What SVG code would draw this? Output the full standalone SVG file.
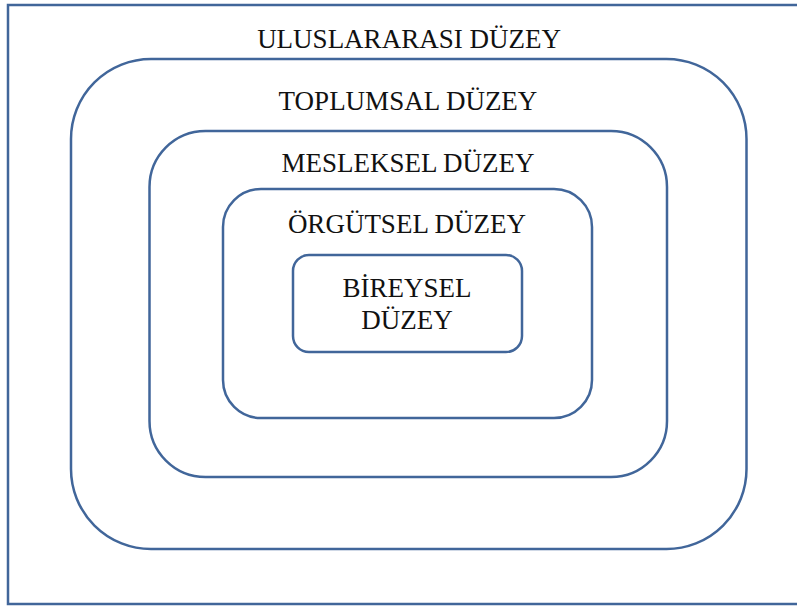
<svg xmlns="http://www.w3.org/2000/svg" width="797" height="608" viewBox="0 0 797 608">
<style>
.b{fill:none;stroke:#41669a;stroke-width:2.5}
.t{font-family:"Liberation Serif","Times New Roman",serif;font-size:27px;fill:#111;text-anchor:middle}
</style>
<rect width="797" height="608" fill="#fff"/>
<g id="uluslararasi">
<rect class="b" x="8" y="5" width="795" height="599"/>
<text class="t" x="409" y="48">ULUSLARARASI DÜZEY</text>
</g>
<g id="toplumsal">
<rect class="b" x="71" y="59" width="675.5" height="490" rx="80" ry="80"/>
<text class="t" x="408" y="110">TOPLUMSAL DÜZEY</text>
</g>
<g id="mesleksel">
<rect class="b" x="149.5" y="131" width="517.5" height="346" rx="56" ry="56"/>
<text class="t" x="408" y="172">MESLEKSEL DÜZEY</text>
</g>
<g id="orgutsel">
<rect class="b" x="223" y="189" width="369" height="229" rx="38" ry="38"/>
<text class="t" x="407" y="233">ÖRGÜTSEL DÜZEY</text>
</g>
<g id="bireysel">
<rect class="b" x="293" y="255" width="229" height="97" rx="16" ry="16"/>
<text class="t" x="407" y="297">BİREYSEL</text>
<text class="t" x="407" y="329">DÜZEY</text>
</g>
<g id="connectors"></g>
</svg>
